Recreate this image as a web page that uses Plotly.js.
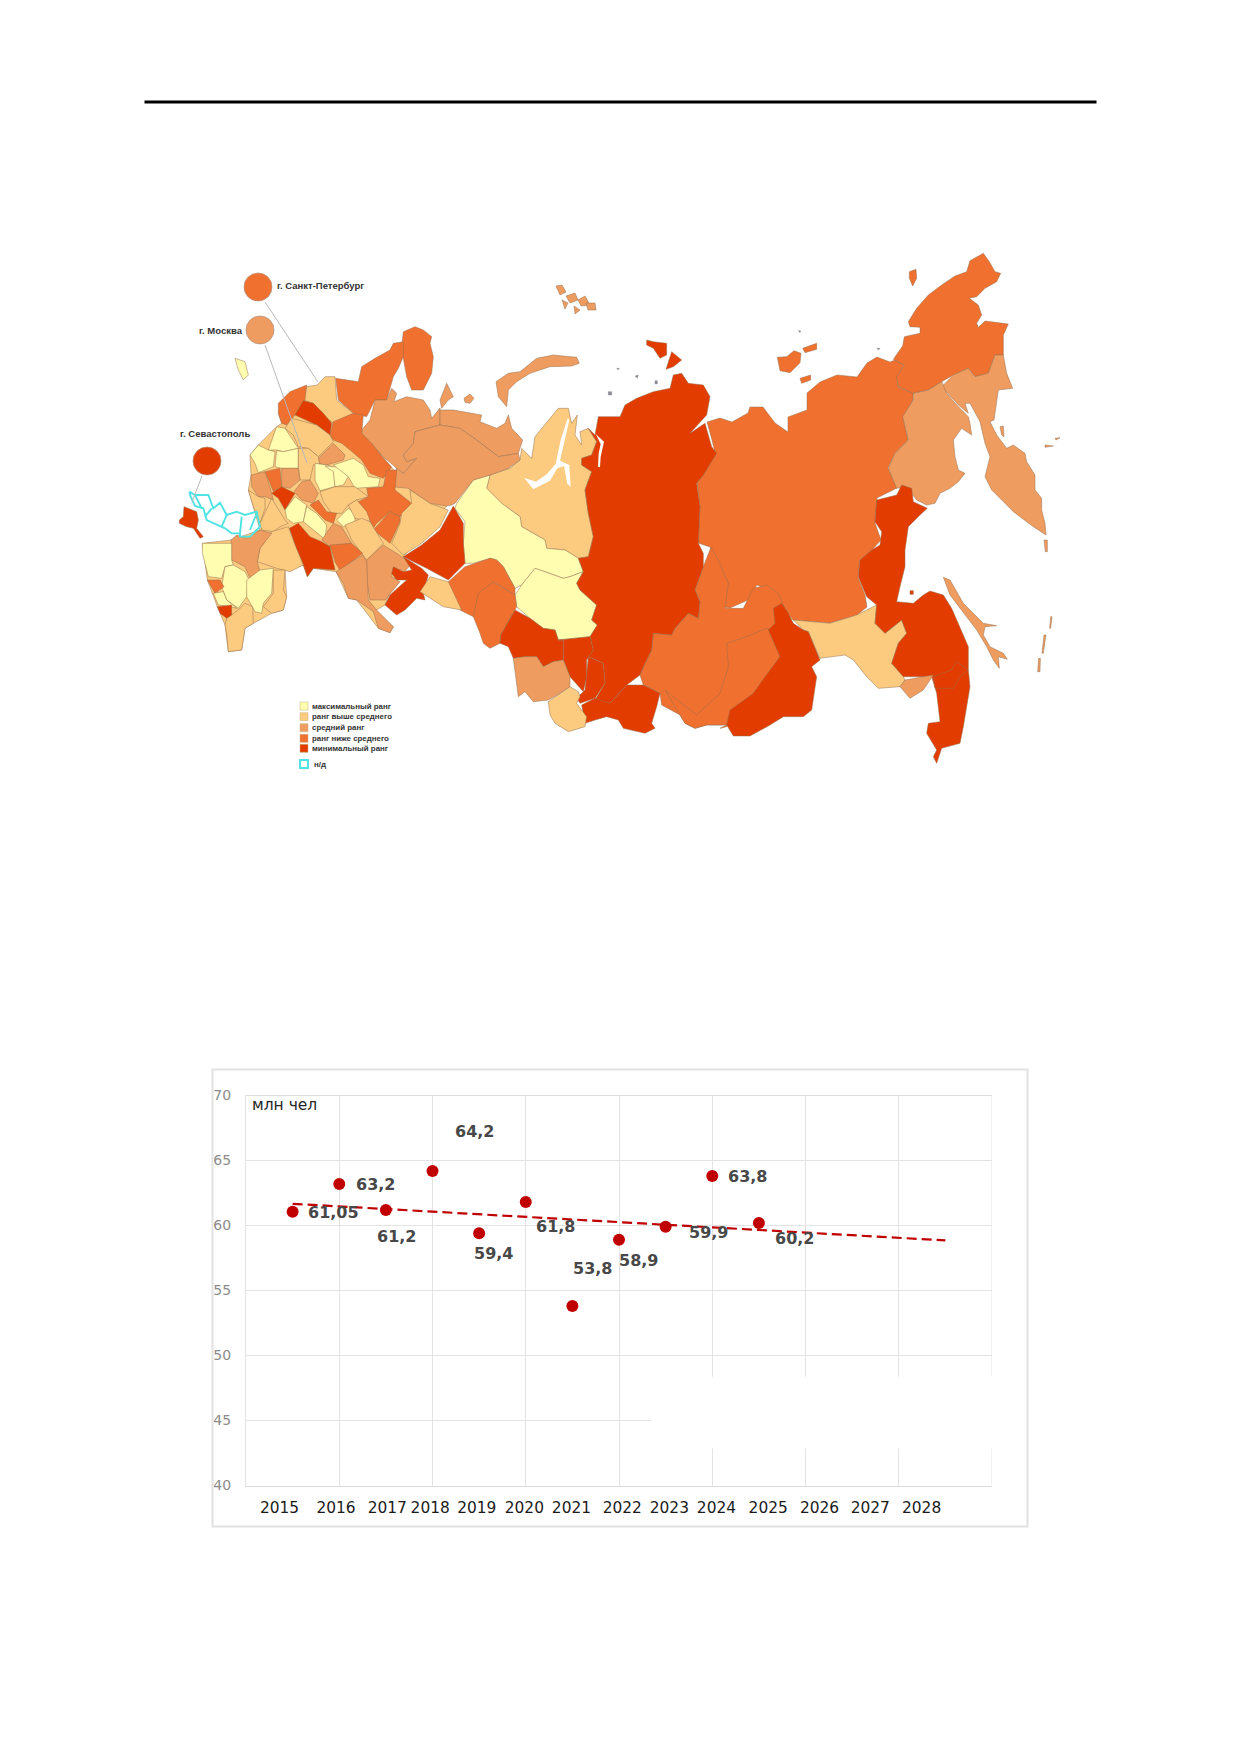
<!DOCTYPE html>
<html><head><meta charset="utf-8">
<script src="https://cdn.plot.ly/plotly-3.0.1.min.js"></script>
<style>html,body{margin:0;padding:0;background:#fff}#p{width:1240px;height:1754px}</style>
</head><body><div id="p"></div>
<script>
// ---------- scatter chart data ----------
const years=[2015,2016,2017,2018,2019,2020,2021,2022,2023,2024,2025];
const population=[61.05,63.2,61.2,64.2,59.4,61.8,53.8,58.9,59.9,63.8,60.2];
const valueLabels=['61,05','63,2','61,2','64,2','59,4','61,8','53,8','58,9','59,9','63,8','60,2'];
const valueLabelX=[2015.875,2016.77,2017.23,2018.89,2019.31,2020.64,2021.43,2022.42,2023.92,2024.76,2025.76];
const valueLabelY=[60.98,63.16,59.13,67.21,57.82,59.9,56.7,57.34,59.47,63.75,59.0];
const trendX=[2015,2029];
const trendY=[61.67,58.85];
const yearTicks=['2015','2016','2017','2018','2019','2020','2021','2022','2023','2024','2025','2026','2027','2028'];
const yearTickX=[2014.72,2015.93,2017.03,2017.95,2018.95,2019.97,2020.98,2022.07,2023.08,2024.09,2025.2,2026.3,2027.39,2028.49];

// ---------- map legend and city data ----------
const rankNames=['максимальный ранг','ранг выше среднего','средний ранг','ранг ниже среднего','минимальный ранг'];
const rankColors=['#FEFDB0','#FCCB80','#EE9C60','#F07030','#E23C00'];
const cityNames=['г. Санкт-Петербург','г. Москва','г. Севастополь'];
const cityRank=[3,2,4];
const cityX=[258,260,207], cityY=[287,330,461];
// map outlines; numbers are rank index, sheet letter, then outline points
const S0={W:[170,380,3],M:[440,340,3],S:[480,560,3],N:[190,260,3],E:[720,240,3],F:[720,480,3],P:[0,0,1]};
const eastRegions=[
[3,'P',720,418,732,422,748,413,750,407,763,407,775,423,788,432,788,417,807,410,807,393,820,382,837,375,857,377,867,363,877,357,890,362,895,360,904,365,897,377,898,387,913,393,913,400,903,417,908,440,895,453,888,468,897,488,877,498,875,523,881,540,872,550,860,560,858,577,865,595,867,607,857,615,830,623,793,620,783,607,770,590,757,585,748,600,730,608,723,607,720,568,718,560,710,547,698,543,700,507,697,483,703,475,715,453,712,440,707,422],
[3,'S',480,345,495,310,515,270,520,220,575,225,585,205,625,160,655,175,660,125,645,90,670,20,693,-39,715,0,745,70,735,145,790,145,820,85,860,75,895,100,'F',190,375,160,450,180,530,135,590,100,640,30,690,20,740,0,745,'S',740,495,680,495,645,505,615,490,600,465,545,435,540,400,490,375],
[3,'S',555,390,650,465,720,400,745,320,740,250,800,230,860,205,900,215,920,300,800,480,740,495,680,495,645,505,615,490,600,465],
[3,'E',520,358,548,318,553,290,575,285,600,280,600,262,570,260,565,245,590,205,625,165,665,135,705,108,740,95,750,62,790,40,808,65,825,95,842,100,830,125,795,145,770,170,748,175,775,195,785,225,770,250,775,262,795,243,865,252,850,285,850,345,825,345,805,400,765,410,745,385,700,405,665,425,625,450,580,460,535,440,530,410,553,375],
[2,'E',825,345,850,345,860,400,878,445,835,450,830,490,822,540,810,545,830,585,860,625,880,615,915,640,920,665,945,705,945,750,965,775,965,810,975,850,978,885,940,860,880,815,815,750,795,710,810,650,795,610,780,545,750,490,735,490,745,520,715,495,665,440,700,405,745,385,765,410,805,400],
[2,'E',665,425,680,460,710,495,745,530,750,550,755,585,725,565,700,600,705,650,715,690,735,700,715,725,690,745,660,760,645,790,620,795,590,780,560,740,530,745,505,685,525,640,565,600,548,530,580,480,580,460,625,450],
[3,'E',568,95,588,88,590,115,578,138,568,115],
[3,'E',172,352,200,350,222,332,243,340,240,368,210,398,180,392],
[3,'E',248,325,290,310,290,328,255,338],
[3,'E',240,415,272,405,272,420,245,430],
[2,'E',840,560,850,558,852,590,845,585],
[2,'E',975,615,1000,618,975,622],
[2,'E',1005,595,1020,593,1008,600],
[1,'F',220,420,330,430,410,405,470,375,465,430,495,460,545,420,560,460,535,490,515,550,550,590,555,600,540,620,475,625,440,590,400,540,375,525,300,535,280,490,265,455,250,450],
[4,'F',185,370,205,400,220,430,250,450,265,455,280,490,300,540,275,560,290,590,275,690,250,710,190,710,150,735,90,768,40,768,20,735,30,690,100,640,135,590,180,530,145,450,165,430,160,385],
[4,'F',470,60,530,45,545,15,575,25,580,65,622,85,600,105,565,140,555,210,555,260,540,320,530,365,580,370,610,345,630,333,670,345,695,385,720,440,745,500,745,570,750,620,730,740,720,790,665,805,650,850,640,830,650,810,620,760,625,730,660,725,650,640,635,590,550,590,515,550,535,490,560,460,545,420,495,460,465,430,470,375,440,350,415,290,420,240,455,210,480,195,485,155,465,125],
[4,'F',645,625,700,625,720,590,745,570,710,545,695,570,640,590],
[4,'F',570,332,580,332,580,343,570,343],
[2,'F',540,620,555,600,640,585,610,630,570,655],
[2,'F',670,292,690,300,730,370,790,430,830,437,795,440,790,465,810,500,850,520,862,538,835,530,838,565,820,540,800,500,770,450,720,385,690,345],
[2,'F',972,180,982,180,982,215,976,215],
[2,'F',992,410,996,410,992,445,989,445],
[2,'F',972,465,978,465,970,520,966,520],
[2,'F',956,535,961,535,960,575,953,575]
];
const siberiaRegions=[
[1,'M',150,405,210,385,240,360,245,325,275,355,285,290,330,235,355,205,385,205,395,250,405,235,412,225,405,285,425,315,420,275,445,265,470,305,455,345,425,355,425,375,455,395,435,450,445,520,460,590,445,650,415,655,375,630,320,625,315,600,245,560,240,530,185,490,140,445],
[0,'M',150,405,140,445,185,490,240,530,245,560,315,600,320,625,375,630,415,655,'S',310,35,270,50,250,55,210,40,165,25,125,75,105,85,70,20,50,0,'M',150,655,100,670,75,670,70,610,75,545,45,505,50,490,100,420],
[0,'S',105,105,125,75,165,25,210,40,250,55,270,50,310,35,290,70,300,90,350,135,335,180,352,195,330,230,235,240,225,210,190,205,150,175,110,140],
[4,'M',475,230,465,285,445,265,470,305,455,345,425,355,425,375,455,395,435,450,445,520,460,590,445,650,415,655,'S',310,35,290,70,300,90,350,135,335,180,352,195,330,230,340,270,325,290,370,310,375,370,345,420,390,430,440,375,480,345,495,310,515,270,520,220,575,225,585,205,625,160,655,175,660,125,645,90,670,20,'M',790,640,775,610,780,500,770,430,790,405,830,340,815,320,795,250,750,280,800,225,810,170,790,135,745,130,725,100,700,105,690,145,640,155,590,175,555,195,540,230],
[4,'M',620,0,640,5,680,10,680,45,660,55,640,25,620,15],
[4,'M',695,35,725,60,700,80,678,88],
[3,'M',20,730,75,680,150,655,'S',30,-6,50,0,70,20,105,85,105,105,95,99,40,66,'M',135,750,130,800,100,830,60,810,35,770],
[3,'S',40,66,95,99,105,105,110,140,105,150,62,225,60,250,30,265,10,250,0,220,-20,170,-10,120,-5,100],
[4,'S',105,150,150,175,190,205,225,210,235,240,250,240,250,300,220,305,190,320,170,290,135,290,100,295,85,260,60,250,62,225],
[4,'S',235,240,330,230,340,270,320,300,320,350,310,395,270,350,250,300,250,240],
[4,'S',325,290,370,310,375,370,345,415,300,430,290,415,315,390,320,345],
[4,'S',345,415,390,430,440,375,490,375,540,400,530,440,515,490,525,505,495,520,430,505,415,480,380,470,345,480,315,490,305,435],
[2,'S',100,295,135,290,170,290,190,320,220,305,250,300,270,350,270,380,240,400,205,420,160,425,135,395,115,410],
[1,'S',205,425,240,400,270,380,295,395,300,410,290,430,320,470,315,500,265,515,225,490,210,465],
[2,'M',168,125,205,100,240,95,290,55,340,45,410,52,418,70,395,78,330,80,270,100,230,125,205,150,200,200,175,170],
[2,'M',72,175,90,162,102,175,90,190,75,187],
[2,'M',0,180,20,130,40,170,25,180,5,205],
[2,'P',556,286,562,285,566,292,560,295],[2,'P',566,296,575,293,578,300,570,303],[2,'P',578,300,585,296,590,305,581,306],[2,'P',586,303,595,303,596,310,588,310],[2,'P',562,300,568,303,565,309],[2,'P',574,306,580,310,575,314]
];
const westRegions=[
// underlay that closes the small gaps inside European Russia
[1,'W',243,285,240,225,265,195,320,140,335,130,325,100,345,90,410,40,490,130,575,150,715,325,830,378,700,530,645,675,610,695,670,740,660,758,625,745,560,660,535,655,498,575,430,565,412,590,400,555,345,570,350,650,340,690,305,700,250,730,225,745,215,810,175,815,165,735,142,680,112,600,97,490,183,480,270,450,250,380,235,330],
[3,'N',640,215,675,200,700,210,725,230,720,250,730,290,725,340,700,390,665,390,650,350,640,295,635,260],
[3,'N',437,355,505,365,515,320,555,295,600,270,610,250,640,245,640,290,625,325,610,350,590,420,555,420,530,470,490,460,445,420],
[1,'W',410,20,442,15,465,-10,495,-10,500,60,550,100,490,130,460,105,430,70,400,60],
[3,'W',325,70,360,35,410,15,405,60,375,105,350,135,335,130,325,100],
[4,'W',400,62,430,70,460,100,485,130,480,165,440,135,375,105],
[1,'W',345,145,365,115,440,135,480,165,490,185,445,230,415,205,385,200,370,165],
[2,'N',515,510,540,480,555,420,590,420,605,385,620,400,612,425,650,410,700,420,720,450,725,475,745,450,750,444,'W',810,135,735,155,730,190,700,225,710,245,740,235,700,280,680,265,640,230,600,185,575,160],
[2,'M',0,210,40,210,125,225,120,245,170,265,195,250,205,225,215,265,248,300,235,340,175,350,110,300,60,265,0,255],
[2,'W',735,155,810,135,'M',60,265,110,300,175,350,235,340,240,360,205,385,150,405,100,420,45,490,35,495,'W',830,378,780,370,715,325,665,320,680,265,700,280,740,235,710,245,700,225,730,190],
[3,'W',490,125,550,100,580,105,575,160,605,190,640,235,665,262,640,295,600,280,575,240,540,210,515,190,490,180,480,165],
[0,'N',135,295,165,305,175,345,160,360,145,330],
[0,'W',295,210,320,140,345,145,385,205,340,215,320,210],
[0,'W',240,225,265,195,295,210,315,215,310,260,265,278,255,250],
[0,'W',320,212,340,215,385,205,385,265,335,265,315,260],
[1,'W',385,205,415,205,445,230,450,250,430,255,420,300,390,300,385,265],
[2,'W',445,235,490,190,525,225,520,240,470,255,450,252],
[0,'W',435,250,470,255,490,262,495,320,450,332,435,300],
[0,'W',465,258,510,262,535,290,520,315,495,320,490,275],
[0,'W',490,255,550,235,580,255,595,290,630,295,625,320,555,325,535,290],
[2,'W',243,285,285,275,300,320,310,360,285,350,265,350,245,320],
[3,'W',285,275,330,265,335,320,310,335,300,310],
[2,'W',335,265,385,265,390,300,360,325,335,320],
[4,'W',305,340,335,320,375,340,345,390,325,355],
[1,'W',235,330,265,350,285,355,285,385,270,430,250,380],
[2,'W',372,335,395,305,420,300,445,340,430,370,395,360],
[1,'W',450,335,495,320,555,320,595,350,560,360,535,375,515,400,485,400,460,365],
[3,'W',420,375,445,360,470,395,500,400,490,430,465,420,440,395],
[1,'W',270,430,290,385,305,355,345,420,355,430,330,440,310,455,275,450],
[0,'W',345,390,375,350,410,375,400,425,370,430,350,415],
[0,'W',410,380,440,400,470,435,465,478,400,425],
[0,'W',500,420,535,385,555,400,555,425,520,440],
[1,'W',535,375,560,360,595,390,600,425,555,415],
[3,'W',565,365,595,350,590,325,640,320,650,270,680,270,675,330,725,370,690,410,660,395,620,430,610,445,590,395],
[3,'W',610,450,660,395,690,410,690,425,660,490,640,475],
[1,'W',720,330,780,370,835,390,810,440,755,490,700,525,665,490,690,430,695,400,725,370],
[1,'W',525,435,575,415,600,425,640,490,590,540,545,480],
[2,'W',455,480,490,430,515,440,545,490,480,500],
[3,'W',480,495,545,490,578,520,510,572,495,545],
[2,'W',590,540,640,495,680,520,725,550,700,580,670,565,665,590,690,605,645,660,600,660,590,600],
[2,'W',498,575,578,525,590,545,595,660,620,690,670,740,660,758,625,745,610,695,560,660,535,655,520,610],
[4,'W',358,445,385,430,420,470,455,485,480,500,495,570,430,565,412,590,400,555,375,495],
[1,'W',305,455,355,440,375,495,400,555,360,575,320,565,262,545,270,505],
[2,'W',183,480,200,465,230,475,270,450,305,460,270,505,262,545,270,575,240,595,225,560,185,540],
[4,'W',850,378,880,430,880,490,885,550,835,600,770,565,700,530,755,495,810,450],
[4,'W',700,530,755,565,775,585,760,640,765,660,740,655,705,690,680,705,645,675,660,645,710,600,680,600,665,580,670,560,700,575,725,570],
[1,'W',780,590,835,605,875,690,820,680,750,635],
[4,'W',42,380,80,395,85,420,80,445,100,470,90,475,70,445,50,440,28,430,28,420,40,410],
[0,'W',97,490,150,490,185,490,185,540,190,555,165,560,155,595,115,590,110,570,97,520],
[0,'W',165,560,190,555,225,575,235,595,230,650,205,685,170,660,155,620],
[0,'W',230,600,270,570,310,565,305,640,280,670,275,700,255,695,230,650],
[1,'W',310,570,345,570,340,630,350,650,340,690,305,700,280,680,310,640],
[3,'W',112,600,150,600,162,620,135,640],
[0,'W',130,640,160,635,170,660,200,685,180,680,145,675],
[1,'W',170,715,185,705,205,690,225,670,248,680,250,730,225,745,215,810,175,815,170,760,165,735],
[4,'W',142,680,185,675,185,705,170,715,150,700]
];
// inland water and gulfs
const waterOutlines=[
['M',383,235,362,300,347,372,320,403,288,425,252,413,280,448,330,422,352,385,372,378,382,432,392,440,388,375,360,362,372,310,388,240],
['M',467,282,492,305,482,350,480,382,474,380,476,340,482,312]
];
// small arctic islets
const isletOutlines=[['M',505,155,515,155,515,165,505,165],['M',585,108,595,105,592,115],['M',645,122,652,122,652,132,645,132],['M',530,85,538,85,535,90],['E',235,272,242,272,240,278],['E',470,325,480,325,476,330]];
// territory without data, and the leader lines
const noDataOutlines=[
['W',58,335,75,345,115,345,130,385,150,368,170,405,200,395,225,405,260,395,270,440,240,470,210,470,210,460,185,460,165,445,110,420,100,385,75,378,62,350,58,335],
['W',125,385,105,410],['W',170,405,155,440],['W',215,410,210,460],['W',75,345,95,385],['W',262,395,240,450]
];
const leaderLines=[['P',265,302,318,382],['P',265,345,307,463],['P',202,476,192,502]];

function toPage(list,close){
  let s=[0,0,1],xs=[],ys=[];
  for(let i=0;i<list.length;){
    if(typeof list[i]==='string'){s=S0[list[i]];i++;continue;}
    xs.push(s[0]+list[i]/s[2]);ys.push(s[1]+list[i+1]/s[2]);i+=2;
  }
  if(close){xs.push(xs[0]);ys.push(ys[0]);}
  return {xs,ys};
}
const traces=[];
const common={xaxis:'x2',yaxis:'y2',hoverinfo:'skip',showlegend:false,type:'scatter',mode:'lines'};
function addRegion(r){
  const p=toPage(r.slice(1),true);
  traces.push({...common,x:p.xs,y:p.ys,fill:'toself',fillcolor:rankColors[r[0]],line:{color:'#96704F',width:0.5}});
}
[...eastRegions,...siberiaRegions,...westRegions].forEach(addRegion);
waterOutlines.forEach(w=>{const p=toPage(w,true);traces.push({...common,x:p.xs,y:p.ys,fill:'toself',fillcolor:'#fff',line:{color:'#ffffff',width:0}});});
isletOutlines.forEach(w=>{const p=toPage(w,true);traces.push({...common,x:p.xs,y:p.ys,fill:'toself',fillcolor:'#8C8A94',line:{color:'#8C8A94',width:0.4}});});
noDataOutlines.forEach(w=>{const p=toPage(w,false);traces.push({...common,x:p.xs,y:p.ys,line:{color:'#4FE3E3',width:1.9}});});
leaderLines.forEach(w=>{const p=toPage(w,false);traces.push({...common,x:p.xs,y:p.ys,line:{color:'#B8B8B8',width:1}});});
traces.push({...common,mode:'markers',x:cityX,y:cityY,marker:{size:28,color:cityRank.map(i=>rankColors[i]),line:{color:'#B09080',width:0.7}}});

// legend swatches
const legendX=304, legendRowY=[706,716.7,727.7,738.3,748.3], noDataY=764;
traces.push({...common,mode:'markers',x:rankNames.map(()=>legendX),y:legendRowY,marker:{symbol:'square',size:8,color:rankColors,line:{color:'#C8B080',width:0.5}}});
traces.push({...common,mode:'markers',x:[legendX],y:[noDataY],marker:{symbol:'square-open',size:8,color:'#4FE3E3',line:{color:'#4FE3E3',width:2}}});

// chart
traces.push({type:'scatter',mode:'lines',x:trendX,y:trendY,line:{color:'#C00000',width:2.2,dash:'10px,5px'},xaxis:'x3',yaxis:'y',hoverinfo:'skip',showlegend:false});
traces.push({type:'scatter',mode:'markers',x:years,y:population,marker:{size:12,color:'#C00000'},xaxis:'x',yaxis:'y',hoverinfo:'skip',showlegend:false});

const W=1240,H=1754;
const px=x=>x/W, py=y=>1-y/H;
const annotations=[];
valueLabels.forEach((t,i)=>annotations.push({xref:'x',yref:'y',x:valueLabelX[i],y:valueLabelY[i],text:t,showarrow:false,font:{family:'DejaVu Sans',size:16,color:'#484848',weight:700}}));
annotations.push({xref:'x',yref:'y',x:2014.08,y:69.25,xanchor:'left',text:'млн чел',showarrow:false,font:{family:'DejaVu Sans',size:15.5,color:'#262626'}});
const mapFont=s=>({family:'Liberation Sans',size:s,color:'#333',weight:700});
annotations.push({xref:'x2',yref:'y2',x:274.5,y:285,xanchor:'left',text:cityNames[0],showarrow:false,font:mapFont(9.5)});
annotations.push({xref:'x2',yref:'y2',x:245,y:330,xanchor:'right',text:cityNames[1],showarrow:false,font:mapFont(9.5)});
annotations.push({xref:'x2',yref:'y2',x:215,y:433,text:cityNames[2],showarrow:false,font:mapFont(9.5)});
rankNames.forEach((t,i)=>annotations.push({xref:'x2',yref:'y2',x:309.5,y:legendRowY[i],xanchor:'left',text:t,showarrow:false,font:mapFont(7.9)}));
annotations.push({xref:'x2',yref:'y2',x:312,y:noDataY,xanchor:'left',text:'н/д',showarrow:false,font:mapFont(7.9)});

const layout={
  width:W,height:H,margin:{l:0,r:0,t:0,b:0,pad:0},paper_bgcolor:'#fff',plot_bgcolor:'rgba(0,0,0,0)',showlegend:false,
  xaxis:{domain:[px(246),px(992)],range:[2014,2030],tick0:2014,dtick:2,showticklabels:false,ticks:'',showgrid:true,gridcolor:'#E3E3E3',gridwidth:1,zeroline:false,showline:true,mirror:true,linecolor:'#DCDCDC',linewidth:1,anchor:'y',fixedrange:true},
  xaxis3:{overlaying:'x',anchor:'y',side:'bottom',range:[2014,2030],tickmode:'array',tickvals:yearTickX,ticktext:yearTicks,ticks:'',ticklen:0,ticklabelstandoff:11,showgrid:false,zeroline:false,showline:false,tickangle:0,tickfont:{family:'DejaVu Sans',size:15.4,color:'#1a1a1a'},fixedrange:true},
  yaxis:{domain:[py(1485.5),py(1095.5)],range:[40,70],tick0:40,dtick:5,ticks:'',ticklabelstandoff:11,showgrid:true,gridcolor:'#E3E3E3',gridwidth:1,zeroline:false,showline:true,mirror:false,linecolor:'#E3E3E3',linewidth:1,anchor:'x',tickfont:{family:'DejaVu Sans',size:14,color:'#8C8C8C'},fixedrange:true},
  xaxis2:{domain:[0,1],range:[0,W],visible:false,anchor:'y2',fixedrange:true},
  yaxis2:{domain:[0,1],range:[H,0],visible:false,anchor:'x2',fixedrange:true},
  shapes:[
    {type:'line',xref:'paper',yref:'paper',x0:px(144.5),x1:px(1096.5),y0:py(102),y1:py(102),line:{color:'#000',width:3},layer:'above'},
    {type:'rect',xref:'paper',yref:'paper',x0:px(212.5),x1:px(1027.5),y0:py(1069.5),y1:py(1526.5),line:{color:'#E2E2E2',width:2},fillcolor:'rgba(0,0,0,0)',layer:'below'},
    {type:'line',xref:'x',yref:'y',x0:2030,x1:2030,y0:48.36,y1:70,line:{color:'#E3E3E3',width:1}},
    {type:'line',xref:'x',yref:'y',x0:2030,x1:2030,y0:40,y1:42.85,line:{color:'#E3E3E3',width:1}},
    {type:'rect',xref:'x',yref:'y',x0:2022.68,x1:2030.15,y0:42.85,y1:48.36,line:{width:0},fillcolor:'#fff',layer:'above'}
  ],
  annotations
};
Plotly.newPlot('p',traces,layout,{displayModeBar:false,staticPlot:true});
</script></body></html>
